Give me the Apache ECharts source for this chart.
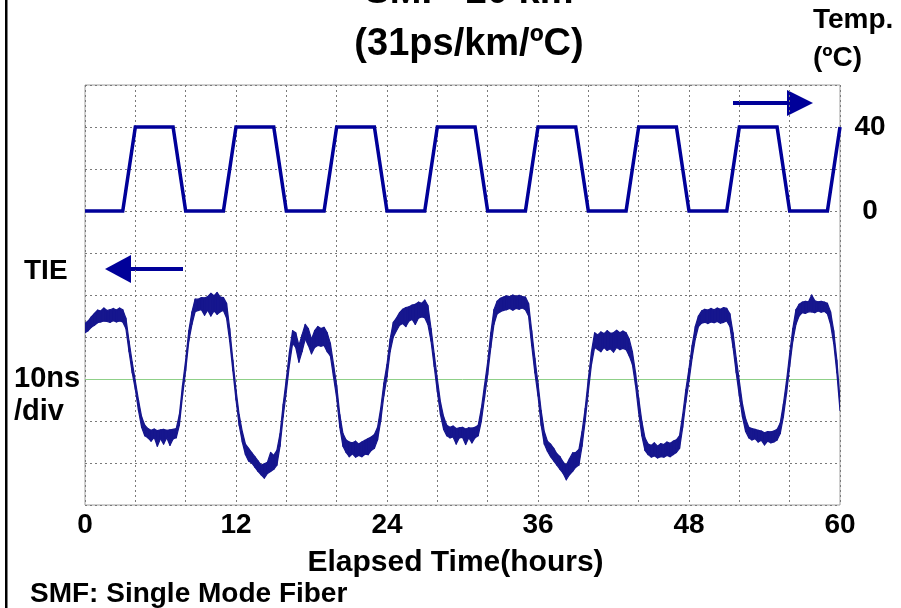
<!DOCTYPE html>
<html>
<head>
<meta charset="utf-8">
<title>SMF 20 km - TIE vs temperature</title>
<script src="https://cdn.jsdelivr.net/npm/echarts@6.0.0/dist/echarts.min.js"></script>
<style>
    html, body { margin: 0; padding: 0; background: #fff; }
    #chart { width: 901px; height: 608px; }
</style>
</head>
<body>
<div id="chart"></div>
<script>
// temperature cycle (deg C), corner points of the trapezoid wave
const tempHours = [0, 3, 4, 7, 8, 11, 12, 15, 16, 19, 20, 23, 24, 27, 28, 31,
    32, 35, 36, 39, 40, 43, 44, 47, 48, 51, 52, 55, 56, 59, 60]
const tempValues = [0, 0, 40, 40, 0, 0, 40, 40, 0, 0, 40, 40, 0, 0, 40, 40,
    0, 0, 40, 40, 0, 0, 40, 40, 0, 0, 40, 40, 0, 0, 40]

// TIE trace (ns), read every 15 min as lower / upper edge of the noisy band
const tieHours = [
    0, 0.25, 0.5, 0.75, 1, 1.25, 1.5, 1.75, 2, 2.25, 2.5, 2.75, 3, 3.25, 3.5, 3.75,
    4, 4.25, 4.5, 4.75, 5, 5.25, 5.5, 5.75, 6, 6.25, 6.5, 6.75, 7, 7.25, 7.5, 7.75,
    8, 8.25, 8.5, 8.75, 9, 9.25, 9.5, 9.75, 10, 10.25, 10.5, 10.75, 11, 11.25, 11.5, 11.75,
    12, 12.25, 12.5, 12.75, 13, 13.25, 13.5, 13.75, 14, 14.25, 14.5, 14.75, 15, 15.25, 15.5, 15.75,
    16, 16.25, 16.5, 16.75, 17, 17.25, 17.5, 17.75, 18, 18.25, 18.5, 18.75, 19, 19.25, 19.5, 19.75,
    20, 20.25, 20.5, 20.75, 21, 21.25, 21.5, 21.75, 22, 22.25, 22.5, 22.75, 23, 23.25, 23.5, 23.75,
    24, 24.25, 24.5, 24.75, 25, 25.25, 25.5, 25.75, 26, 26.25, 26.5, 26.75, 27, 27.25, 27.5, 27.75,
    28, 28.25, 28.5, 28.75, 29, 29.25, 29.5, 29.75, 30, 30.25, 30.5, 30.75, 31, 31.25, 31.5, 31.75,
    32, 32.25, 32.5, 32.75, 33, 33.25, 33.5, 33.75, 34, 34.25, 34.5, 34.75, 35, 35.25, 35.5, 35.75,
    36, 36.25, 36.5, 36.75, 37, 37.25, 37.5, 37.75, 38, 38.25, 38.5, 38.75, 39, 39.25, 39.5, 39.75,
    40, 40.25, 40.5, 40.75, 41, 41.25, 41.5, 41.75, 42, 42.25, 42.5, 42.75, 43, 43.25, 43.5, 43.75,
    44, 44.25, 44.5, 44.75, 45, 45.25, 45.5, 45.75, 46, 46.25, 46.5, 46.75, 47, 47.25, 47.5, 47.75,
    48, 48.25, 48.5, 48.75, 49, 49.25, 49.5, 49.75, 50, 50.25, 50.5, 50.75, 51, 51.25, 51.5, 51.75,
    52, 52.25, 52.5, 52.75, 53, 53.25, 53.5, 53.75, 54, 54.25, 54.5, 54.75, 55, 55.25, 55.5, 55.75,
    56, 56.25, 56.5, 56.75, 57, 57.25, 57.5, 57.75, 58, 58.25, 58.5, 58.75, 59, 59.25, 59.5, 59.75,
    60,
]
const tieLow = [
    11.0, 11.5, 12.3, 12.8, 13.4, 13.6, 13.8, 13.7, 13.5, 13.9, 13.6, 13.8, 13.6, 12.0, 6.5, 1.5,
    -2.5, -7.5, -11.5, -13.5, -14.0, -14.8, -13.9, -16.0, -14.2, -15.5, -14.0, -15.8, -14.3, -14.0, -11.0, -4.0,
    2.0, 9.0, 13.0, 16.0, 16.3, 16.5, 15.2, 16.4, 15.0, 16.2, 15.4, 16.0, 16.3, 14.5, 9.0, 2.0,
    -5.0, -11.0, -15.0, -18.0, -19.5, -20.0, -21.0, -22.0, -22.8, -23.6, -22.5, -22.0, -21.5, -20.5, -16.0, -9.0,
    -3.0, 3.5, 8.5, 7.5, 4.0, 6.5, 9.5, 8.0, 6.0, 7.5, 8.0, 7.8, 8.0, 6.5, 5.5, 0.5,
    -4.5, -11.5, -16.0, -17.5, -18.5, -17.8, -18.6, -18.2, -18.5, -17.9, -18.0, -17.0, -16.5, -14.5, -10.0, -4.0,
    0.5, 6.5, 10.0, 11.5, 12.8, 13.2, 12.5, 13.8, 14.2, 13.0, 14.5, 14.8, 14.6, 13.0, 9.0, 3.0,
    -3.0, -8.5, -12.0, -13.5, -14.0, -13.8, -15.5, -14.0, -13.9, -15.6, -14.0, -15.2, -14.0, -13.5, -10.0, -4.5,
    1.0, 7.5, 13.0, 15.5, 16.0, 16.3, 16.5, 16.8, 16.4, 16.8, 16.6, 16.9, 16.5, 15.0, 8.0, 1.5,
    -4.0, -11.0, -15.5, -17.2, -18.5, -19.5, -20.5, -21.5, -22.5, -24.0, -22.8, -22.0, -21.0, -20.5, -16.0, -10.0,
    -3.0, 3.5, 7.5, 7.0, 6.5, 7.5, 6.8, 7.2, 6.4, 7.5, 7.0, 7.3, 7.0, 5.5, 3.5, -1.5,
    -8.0, -13.5, -17.0, -18.0, -18.6, -18.3, -18.8, -18.5, -18.6, -18.2, -18.5, -18.0, -17.5, -16.5, -11.5, -5.5,
    -0.5, 5.0, 9.5, 12.5, 13.3, 13.5, 13.2, 13.6, 13.4, 13.7, 13.3, 13.5, 13.8, 12.5, 7.5, 1.5,
    -4.0, -9.0, -12.5, -14.0, -14.5, -14.2, -15.0, -14.6, -15.7, -14.8, -15.2, -15.0, -14.5, -13.0, -9.0, -3.5,
    3.0, 9.0, 13.0, 15.0, 15.8, 15.6, 16.0, 16.0, 15.8, 16.2, 15.9, 16.1, 15.5, 13.0, 8.5, 1.5,
    -7.5,
]
const tieHigh = [
    13.3, 13.8, 14.8, 15.6, 16.4, 16.2, 16.9, 16.3, 16.5, 16.8, 16.4, 16.9, 16.5, 14.5, 9.0, 4.0,
    -0.5, -5.0, -9.0, -11.0, -11.8, -12.2, -11.9, -12.3, -12.1, -12.0, -12.2, -12.1, -12.0, -11.8, -8.5, -1.5,
    4.5, 11.5, 16.0, 19.0, 19.0, 19.4, 19.3, 19.6, 20.4, 19.8, 20.6, 19.5, 19.4, 18.0, 12.0, 4.5,
    -2.5, -8.5, -12.5, -15.5, -16.5, -17.5, -18.5, -19.5, -20.5, -20.2, -19.8, -17.5, -18.2, -17.0, -13.0, -6.0,
    0.0, 6.5, 11.5, 11.0, 8.0, 10.5, 13.0, 12.0, 9.5, 11.5, 12.5, 12.0, 12.3, 11.0, 8.5, 3.5,
    -1.5, -8.5, -13.0, -14.5, -15.0, -15.2, -14.8, -15.5, -15.0, -14.6, -14.2, -13.8, -13.2, -11.5, -7.0, -1.0,
    3.5, 9.5, 13.5, 14.5, 15.8, 16.6, 17.0, 17.2, 17.6, 17.8, 18.3, 18.0, 18.8, 17.5, 12.0, 6.0,
    0.0, -5.5, -9.0, -11.0, -11.5, -11.2, -11.8, -11.6, -11.5, -11.9, -11.6, -11.7, -11.5, -11.0, -7.0, -1.5,
    4.0, 11.0, 16.5, 18.5, 19.2, 19.5, 19.8, 19.6, 20.0, 19.7, 19.9, 19.6, 19.5, 18.0, 11.5, 5.0,
    -1.0, -7.5, -12.5, -14.8, -15.5, -16.5, -17.8, -18.5, -19.8, -20.5, -19.0, -17.6, -17.5, -16.8, -12.5, -7.0,
    0.0, 6.5, 11.0, 10.5, 11.2, 10.8, 11.5, 10.9, 11.0, 11.6, 11.0, 11.4, 11.0, 9.5, 6.5, 1.5,
    -4.5, -10.0, -14.0, -15.5, -15.8, -15.2, -16.0, -15.4, -15.6, -15.0, -15.3, -14.8, -14.5, -13.5, -8.5, -2.5,
    2.5, 8.0, 12.5, 15.0, 16.2, 16.6, 16.4, 16.8, 16.5, 16.9, 16.6, 17.0, 16.8, 15.5, 11.0, 5.0,
    -0.5, -6.0, -9.5, -11.5, -11.8, -12.0, -12.2, -12.4, -12.8, -12.5, -12.6, -12.4, -12.0, -10.5, -6.0, -0.5,
    6.0, 12.0, 16.5, 17.8, 18.3, 18.5, 18.4, 20.0, 18.6, 18.4, 18.5, 18.3, 18.0, 16.0, 11.5, 4.5,
    -5.0,
]

const FONT = '"Liberation Sans", Arial, sans-serif'
const NAVY = '#000099'
const TRACE = '#16168e'

const chart = echarts.init(document.getElementById('chart'))

const tieData = tieHours.map((h, i) => [h, tieLow[i], tieHigh[i]])
const tempData = tempHours.map((h, i) => [h, tempValues[i]])

// one filled quad per 15 min step between lower and upper edge
const renderBand = (params, api) => {
    const i = params.dataIndex
    if (i >= tieHours.length - 1) {
        return null
    }
    return {
        type: 'polygon',
        shape: {
            points: [
                api.coord([tieHours[i], tieLow[i]]),
                api.coord([tieHours[i + 1], tieLow[i + 1]]),
                api.coord([tieHours[i + 1], tieHigh[i + 1]]),
                api.coord([tieHours[i], tieHigh[i]]),
            ],
        },
        style: { fill: TRACE, stroke: TRACE, lineWidth: 1.2, lineJoin: 'round' },
    }
}

const label = (text, x, y, size, align) => ({
    type: 'text',
    x: x,
    y: y,
    silent: true,
    style: {
        text: text,
        fill: '#000',
        font: `bold ${size}px ${FONT}`,
        align: align || 'left',
        verticalAlign: 'middle',
    },
})

const dotted = { color: '#7a7a7a', width: 1, type: [2, 3] }

chart.setOption({
    animation: false,
    backgroundColor: '#fff',
    grid: {
        left: 85,
        right: 61,
        top: 85,
        bottom: 103,
        show: true,
        backgroundColor: '#fff',
        borderColor: '#a0a0a0',
        borderWidth: 1,
    },
    xAxis: {
        type: 'value',
        min: 0,
        max: 60,
        interval: 4,
        axisLine: { show: false },
        axisTick: { show: false },
        splitLine: { lineStyle: dotted },
        axisLabel: {
            formatter: value => (value % 12 === 0 ? String(value) : ''),
            color: '#000',
            fontFamily: FONT,
            fontWeight: 'bold',
            fontSize: 28,
            margin: 6,
        },
        name: 'Elapsed Time(hours)',
        nameLocation: 'middle',
        nameGap: 43,
        nameTextStyle: {
            color: '#000',
            fontFamily: FONT,
            fontWeight: 'bold',
            fontSize: 30,
            padding: [0, 14, 0, 0],
        },
    },
    yAxis: [
        {
            type: 'value',
            min: -30,
            max: 70,
            interval: 10,
            axisLine: { show: false },
            axisTick: { show: false },
            axisLabel: { show: false },
            splitLine: { lineStyle: dotted },
        },
        {
            type: 'value',
            position: 'right',
            min: -140,
            max: 60,
            interval: 20,
            axisLine: { show: false },
            axisTick: { show: false },
            splitLine: { show: false },
            axisLabel: {
                formatter: value => (value === 0 || value === 40 ? String(value) : ''),
                color: '#000',
                fontFamily: FONT,
                fontWeight: 'bold',
                fontSize: 28,
                align: 'center',
                margin: 30,
            },
        },
    ],
    graphic: [
        { type: 'rect', silent: true, shape: { x: 5, y: 0, width: 2.5, height: 608 }, style: { fill: '#000' } },
        // TIE arrow pointing to the left axis
        { type: 'rect', silent: true, shape: { x: 128, y: 267, width: 55, height: 4 }, style: { fill: NAVY } },
        { type: 'polygon', silent: true, shape: { points: [[105, 269], [131, 255], [131, 283]] }, style: { fill: NAVY } },
        // temperature arrow pointing to the right axis
        { type: 'rect', silent: true, shape: { x: 733, y: 101, width: 56, height: 4 }, style: { fill: NAVY } },
        { type: 'polygon', silent: true, shape: { points: [[787, 90], [813, 103], [787, 116]] }, style: { fill: NAVY } },
        label('SMF  20 km', 469, -7, 38, 'center'),
        label('(31ps/km/ºC)', 469, 45, 38, 'center'),
        label('Temp.', 813, 20, 28),
        label('(ºC)', 813, 58, 28),
        label('TIE', 24, 271, 28),
        label('10ns', 14, 379, 29),
        label('/div', 14, 412, 29),
        label('SMF: Single Mode Fiber', 30, 594, 28),
    ],
    series: [
        {
            name: 'TIE',
            type: 'custom',
            yAxisIndex: 0,
            z: 6,
            clip: true,
            renderItem: renderBand,
            encode: { x: 0, y: [1, 2] },
            data: tieData,
            markLine: {
                silent: true,
                symbol: 'none',
                label: { show: false },
                lineStyle: { color: '#8fd088', width: 1, type: 'solid' },
                data: [{ yAxis: 0 }],
            },
        },
        {
            name: 'Temp.',
            type: 'line',
            yAxisIndex: 1,
            z: 7,
            showSymbol: false,
            symbol: 'none',
            lineStyle: { color: NAVY, width: 3.5, join: 'miter' },
            data: tempData,
        },
    ],
})
</script>
</body>
</html>
